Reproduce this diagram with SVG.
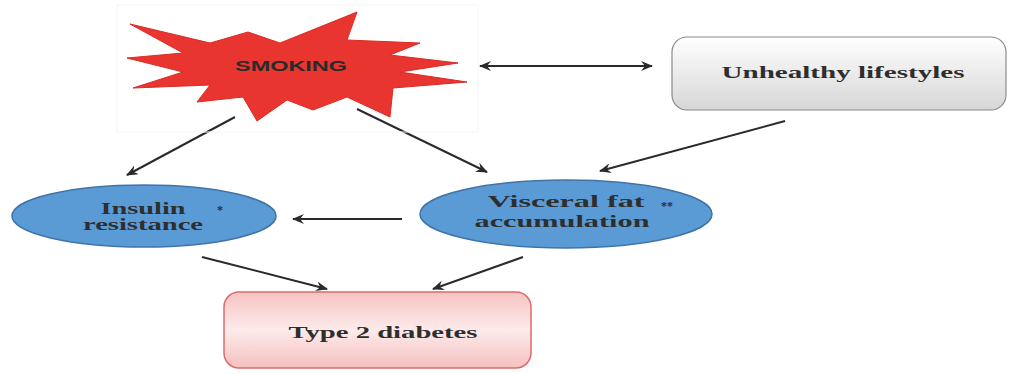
<svg xmlns="http://www.w3.org/2000/svg" width="1009" height="374" viewBox="0 0 1009 374">
<style>
.lbl{font-family:"Liberation Serif","Times New Roman",serif;font-weight:bold;fill:#2e2e2e;text-anchor:middle}
.conn{stroke:#2a2a2a;stroke-width:2;fill:none;marker-end:url(#ah)}
.ell{fill:#5b9bd5;stroke:#3f74a8;stroke-width:1.5}
</style>
<defs>
<marker id="ah" viewBox="0 0 12 10" refX="11" refY="5" markerWidth="12" markerHeight="10" markerUnits="userSpaceOnUse" orient="auto-start-reverse">
<path d="M0,0 L12,5 L0,10 L4,5 Z" fill="#2a2a2a"/>
</marker>
<linearGradient id="grey" x1="0" y1="0" x2="0" y2="1">
<stop offset="0" stop-color="#ffffff"/>
<stop offset="1" stop-color="#d6d6d6"/>
</linearGradient>
<linearGradient id="pink" x1="0" y1="0" x2="0" y2="1">
<stop offset="0" stop-color="#f6c4c4"/>
<stop offset="0.5" stop-color="#fdeaea"/>
<stop offset="1" stop-color="#f5c0c0"/>
</linearGradient>
</defs>
<rect width="1009" height="374" fill="#ffffff"/>

<g id="connectors">
<line x1="480" y1="66" x2="652" y2="66" class="conn" style="marker-start:url(#ah)"/>
<line x1="235" y1="117" x2="127" y2="175" class="conn"/>
<line x1="357" y1="109" x2="487" y2="172" class="conn"/>
<line x1="785" y1="121" x2="600" y2="171" class="conn"/>
<line x1="402" y1="219" x2="293" y2="219" class="conn"/>
<line x1="202" y1="257" x2="327" y2="289" class="conn"/>
<line x1="523" y1="257" x2="433" y2="289" class="conn"/>
</g>

<g id="smoking">
<rect x="117" y="5" width="361" height="127" fill="none" stroke="#f5f5f5" stroke-width="1"/>
<polygon points="130,24 210,43 248,32 280,43 357,12 347,40 420,43 390,55 458,63 400,72 467,82 393,88 390,117 347,97 313,110 287,100 257,121 243,97 197,102 210,85 133,88 183,72 127,58 183,53" fill="#e9352f" stroke="#dc2a25" stroke-width="1"/>
<text x="291" y="71" font-family="Liberation Sans,Arial,sans-serif" font-weight="bold" font-size="14" fill="#2a2a2a" text-anchor="middle" textLength="112" lengthAdjust="spacingAndGlyphs">SMOKING</text>
</g>

<g id="unhealthy">
<rect x="672" y="37" width="334" height="73" rx="15" fill="url(#grey)" stroke="#8a8a8a" stroke-width="1.2"/>
<text x="843" y="78" class="lbl" font-size="16" textLength="243" lengthAdjust="spacingAndGlyphs">Unhealthy lifestyles</text>
</g>

<g id="insulin">
<ellipse cx="144" cy="216" rx="132" ry="31" class="ell"/>
<text x="143" y="214" class="lbl" font-size="16" textLength="85" lengthAdjust="spacingAndGlyphs">Insulin</text>
<text x="143" y="230" class="lbl" font-size="16" textLength="120" lengthAdjust="spacingAndGlyphs">resistance</text>
<text x="220" y="214" class="lbl" font-size="12">*</text>
</g>

<g id="visceral">
<ellipse cx="566" cy="214" rx="146" ry="34" class="ell"/>
<text x="566" y="207" class="lbl" font-size="16" textLength="157" lengthAdjust="spacingAndGlyphs">Visceral fat</text>
<text x="562" y="227" class="lbl" font-size="16" textLength="175" lengthAdjust="spacingAndGlyphs">accumulation</text>
<text x="667" y="210" class="lbl" font-size="12">**</text>
</g>

<g id="diabetes">
<rect x="224" y="292" width="307" height="76" rx="15" fill="url(#pink)" stroke="#de6b6b" stroke-width="1.5"/>
<text x="383" y="338" class="lbl" font-size="16" textLength="189" lengthAdjust="spacingAndGlyphs">Type 2 diabetes</text>
</g>
</svg>
